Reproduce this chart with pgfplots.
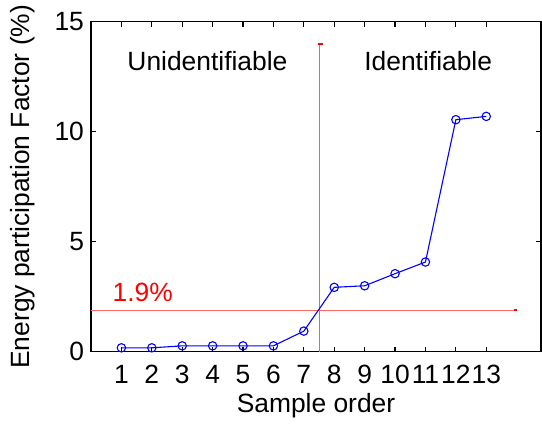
\documentclass[border=0pt]{standalone}
\usepackage{fontspec}
\setmainfont{Liberation Sans}
\usepackage{pgfplots}
\pgfplotsset{compat=1.18}

\begin{document}
\begin{tikzpicture}
\begin{axis}[
  name=a,
  scale only axis, width=225pt, height=165pt,
  xmin=0, xmax=14.8, ymin=0, ymax=15,
  xtick={1,...,13}, ytick={0,5,10,15},
  tick align=inside, major tick length=2.5pt,
  axis line style={line width=0.6pt}, tick style={black, line width=0.6pt},
  /pgf/number format/assume math mode=true,
  tick label style={font=\fontsize{13.2}{15}\selectfont},
  x tick label style={yshift=-3pt},
  label style={font=\fontsize{13.2}{15}\selectfont},
  xlabel={Sample order},
  ylabel={Energy participation Factor (\%)},
  x label style={at={(axis description cs:0.5,-0.1636)}, anchor=center},
  y label style={at={(axis description cs:-0.151,0.5)}, anchor=center},
  clip=false]
% threshold lines
\addplot[red!60, line width=0.45pt] coordinates {(0,1.9) (14,1.9)};
\addplot[red, line width=0.8pt] coordinates {(13.92,1.9) (14.02,1.9)};
\addplot[red!65, line width=0.5pt] coordinates {(7.5,0) (7.5,14)};
\addplot[red, line width=0.8pt] coordinates {(7.48,14) (7.62,14)};
% participation factors
\addplot[blue, line width=0.55pt, mark=o, mark size=2.1pt] coordinates {
 (1,0.18) (2,0.18) (3,0.27) (4,0.27) (5,0.27) (6,0.27) (7,0.94)
 (8,2.93) (9,3.0) (10,3.55) (11,4.08) (12,10.55) (13,10.7)};
\node[font=\fontsize{13.2}{15}\selectfont] at (axis cs:3.83,13.2) {Unidentifiable};
\node[font=\fontsize{13.2}{15}\selectfont] at (axis cs:11.09,13.2) {Identifiable};
\node[font=\fontsize{13.2}{15}\selectfont, text=red] at (axis cs:1.7,2.7) {1.9\%};
\end{axis}
\pgfresetboundingbox
\path[use as bounding box] ([shift={(-45.5pt,-36.6pt)}]a.south west) rectangle ([shift={(0.5pt,10.9pt)}]a.north east);
\end{tikzpicture}
\end{document}
